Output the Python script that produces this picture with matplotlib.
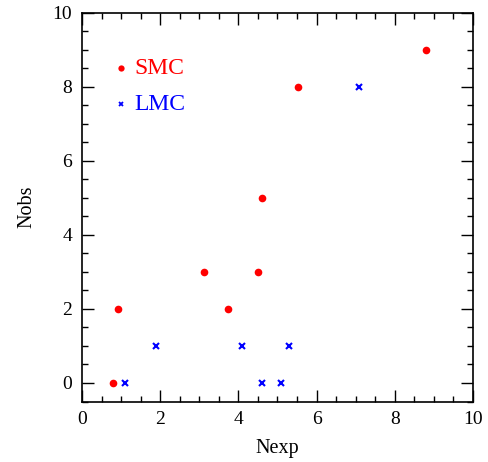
import numpy as np
import matplotlib.pyplot as plt
from matplotlib.ticker import MultipleLocator

plt.rcParams['font.family'] = ['Liberation Serif', 'DejaVu Serif']

# SMC points
smc_x = [0.8, 0.93, 3.12, 3.73, 4.5, 4.6, 5.52, 8.8]
smc_y = [0, 2, 3, 2, 3, 5, 8, 9]
# LMC points
lmc_x = [1.1, 1.89, 4.09, 4.6, 5.09, 5.29, 7.08]
lmc_y = [0, 1, 1, 0, 0, 1, 8]

fig = plt.figure(figsize=(4.89, 4.62), dpi=100)
ax = fig.add_axes([82/489, 1 - 401.5/462, 391/489, 389/462])

ax.plot(smc_x, smc_y, 'o', color='red', markersize=5.5, markeredgewidth=0)
ax.plot(lmc_x, lmc_y, 'x', color='blue', markersize=4.2, markeredgewidth=1.5)

# legend drawn by hand like the original
ax.plot([1.0], [8.5], 'o', color='red', markersize=4.5, markeredgewidth=0)
ax.text(1.35, 8.5, 'SMC', color='red', fontsize=17, va='center')
ax.plot([1.0], [7.53], 'x', color='blue', markersize=3.5, markeredgewidth=1.3)
ax.text(1.35, 7.53, 'LMC', color='blue', fontsize=17, va='center')

ax.set_xlim(0, 10)
ax.set_ylim(-0.5, 10)
ax.xaxis.set_major_locator(MultipleLocator(2))
ax.xaxis.set_minor_locator(MultipleLocator(0.5))
ax.yaxis.set_major_locator(MultipleLocator(2))
ax.yaxis.set_minor_locator(MultipleLocator(0.5))
ax.tick_params(which='both', direction='in', top=True, right=True, width=1.0,
               labelsize=14, pad=7)
ax.tick_params(which='major', length=8.5)
ax.tick_params(which='minor', length=4.3)
for s in ax.spines.values():
    s.set_linewidth(1.2)

ax.set_xlabel('Nexp', fontsize=14.5, labelpad=8)
ax.set_ylabel('Nobs', fontsize=14.5, labelpad=12)

fig.savefig('out.png', dpi=100)
